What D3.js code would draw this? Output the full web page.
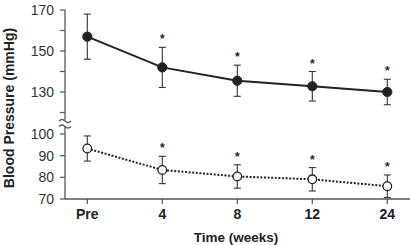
<!DOCTYPE html>
<html><head><meta charset="utf-8">
<script src="https://cdn.jsdelivr.net/npm/d3@7"></script>
<style>body{margin:0;background:#fff}svg{display:block}</style>
</head><body>
<svg id="c" width="410" height="245"></svg>
<script>
const categories = ["Pre","4","8","12","24"];
const upperMean = [157, 142, 135.5, 132.8, 130];
const upperErr  = [11, 9.8, 7.6, 7.2, 6.2];
const lowerMean = [93.3, 83.4, 80.4, 79.1, 75.9];
const lowerErr  = [5.8, 6.3, 5.4, 5.4, 5.2];
const upperTicks = [130, 150, 170];
const upperMinor = [120, 140, 160];
const lowerTicks = [70, 80, 90, 100];

const svg = d3.select("#c");
const x = d3.scalePoint().domain(categories).range([87.3, 387.3]);
const yU = d3.scaleLinear().domain([130, 170]).range([92, 10]);
const yL = d3.scaleLinear().domain([70, 100]).range([199, 134]);
const axisX = 65;
const font = "'Liberation Sans', Arial, Helvetica, sans-serif";
const ink = "#222";

// Y axis lines
svg.append("line").attr("x1",axisX).attr("x2",axisX).attr("y1",yU(170)).attr("y2",120).attr("stroke","#555").attr("stroke-width",1.3);
svg.append("line").attr("x1",axisX).attr("x2",axisX).attr("y1",126).attr("y2",yL(70)).attr("stroke","#555").attr("stroke-width",1.3);
// break marks
[120,125.5].forEach(yy=>{
  svg.append("path").attr("d",`M${axisX-6},${yy+1} q3,-3 6,0 t6,0`).attr("fill","none").attr("stroke","#555").attr("stroke-width",1.2);
});

// Y ticks
const yTickG = svg.append("g").attr("font-family",font).attr("font-size",14).attr("fill","#333");
upperTicks.forEach(v=>{
  svg.append("line").attr("x1",axisX-5).attr("x2",axisX).attr("y1",yU(v)).attr("y2",yU(v)).attr("stroke","#555").attr("stroke-width",1.2);
  yTickG.append("text").attr("x",axisX-11).attr("y",yU(v)).attr("dy","0.36em").attr("text-anchor","end").text(v);
});
upperMinor.forEach(v=>{
  svg.append("line").attr("x1",axisX-5).attr("x2",axisX).attr("y1",yU(v)).attr("y2",yU(v)).attr("stroke","#555").attr("stroke-width",1.2);
});
lowerTicks.forEach(v=>{
  svg.append("line").attr("x1",axisX-5).attr("x2",axisX).attr("y1",yL(v)).attr("y2",yL(v)).attr("stroke","#555").attr("stroke-width",1.2);
  yTickG.append("text").attr("x",axisX-11).attr("y",yL(v)).attr("dy","0.36em").attr("text-anchor","end").text(v);
});

// X axis
svg.append("line").attr("x1",axisX).attr("x2",410).attr("y1",yL(70)).attr("y2",yL(70)).attr("stroke","#555").attr("stroke-width",1.3);
categories.forEach(c=>{
  svg.append("line").attr("x1",x(c)).attr("x2",x(c)).attr("y1",yL(70)).attr("y2",yL(70)+5).attr("stroke","#555").attr("stroke-width",1.2);
  svg.append("text").attr("x",x(c)).attr("y",219).attr("text-anchor","middle").attr("font-family",font).attr("font-size",14).attr("font-weight","bold").attr("fill",ink).text(c);
});

// Titles
svg.append("text").attr("x",236).attr("y",242).attr("text-anchor","middle").attr("font-family",font).attr("font-size",13.5).attr("font-weight","bold").attr("fill",ink).text("Time (weeks)");
svg.append("text").attr("transform","translate(14,108) rotate(-90)").attr("text-anchor","middle").attr("font-family",font).attr("font-size",14).attr("font-weight","bold").attr("fill",ink).text("Blood Pressure (mmHg)");

function series(mean, err, y, filled, dashed){
  const line = d3.line().x((d,i)=>x(categories[i])).y(d=>y(d));
  svg.append("path").attr("d",line(mean)).attr("fill","none").attr("stroke",ink).attr("stroke-width",2)
    .attr("stroke-dasharray",dashed?"2,1.6":null);
  mean.forEach((m,i)=>{
    const cx = x(categories[i]);
    const t = y(m+err[i]), b = y(m-err[i]);
    const g = svg.append("g").attr("stroke","#333").attr("stroke-width",1.1);
    g.append("line").attr("x1",cx).attr("x2",cx).attr("y1",t).attr("y2",b);
    g.append("line").attr("x1",cx-3.5).attr("x2",cx+3.5).attr("y1",t).attr("y2",t);
    g.append("line").attr("x1",cx-3.5).attr("x2",cx+3.5).attr("y1",b).attr("y2",b);
    svg.append("circle").attr("cx",cx).attr("cy",y(m)).attr("r",filled?4.6:4.3)
      .attr("fill",filled?ink:"#fff").attr("stroke",ink).attr("stroke-width",filled?1:1.3);
    if(i>0){
      svg.append("text").attr("x",cx).attr("y",t-4).attr("text-anchor","middle").attr("font-family",font).attr("font-size",12).attr("font-weight","bold").attr("fill",ink).text("*");
    }
  });
}
series(upperMean, upperErr, yU, true, false);
series(lowerMean, lowerErr, yL, false, true);
</script>
</body></html>
